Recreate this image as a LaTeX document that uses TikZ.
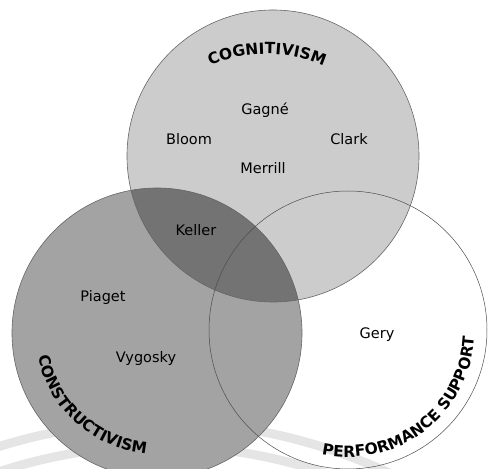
\documentclass[tikz,border=0pt]{standalone}
\usepackage{fontspec}
\usetikzlibrary{decorations.text}
\newfontfamily\dvsans{DejaVu Sans}
\newcommand{\namefont}{\dvsans\fontsize{14.5}{17}\selectfont}
\newcommand{\bandfont}{\dvsans\bfseries\fontsize{15.5}{18}\selectfont}
\tikzset{
  who/.style={font=\namefont, text=black, inner sep=1pt},
  rim/.style={draw=black!60, line width=0.6pt},
  swoosh/.style={draw=black!10, line width=9pt},
  arclabel/.style={decorate, decoration={text along path, text align=center,
      text={|\bandfont|#1}}}
}

\begin{document}
\begin{tikzpicture}[x=1pt,y=1pt]
  \useasboundingbox (0,0) rectangle (488,469);
  \coordinate (cog) at (273,313);
  \coordinate (con) at (157,136);
  \coordinate (perf) at (348,139);
  % faint swooshes behind
  \begin{scope}
    \clip (0,0) rectangle (488,469);
    \coordinate (sw) at (160,-493);
    \draw[swoosh] (sw) ++(112:540) arc[start angle=112, end angle=60, radius=540];
    \draw[swoosh] (sw) ++(112:516) arc[start angle=112, end angle=60, radius=516];
  \end{scope}
  % fills
  \fill[black!20] (cog) circle[radius=146];
  \fill[black!36] (con) circle[radius=145];
  \begin{scope}
    \clip (con) circle[radius=145];
    \fill[black!55] (cog) circle[radius=146];
  \end{scope}
  % rims
  \draw[rim] (cog) circle[radius=146];
  \draw[rim] (con) circle[radius=145];
  \draw[rim, draw=black!70, line width=0.5pt] (perf) circle[radius=139];
  % curved titles
  \coordinate (cogt) at (267,275);
  \path[arclabel=COGNITIVISM] (cogt) ++(140:140) arc[start angle=140, end angle=40, radius=140];
  \path[arclabel=CONSTRUCTIVISM] (con) ++(175:121) arc[start angle=175, end angle=281, radius=121];
  \path[arclabel=PERFORMANCE SUPPORT] (perf) ++(235:127) arc[start angle=235, end angle=380, radius=127];
  % names
  \node[who] (gagne) at (265,359) {Gagné};
  \node[who] (bloom) at (189,330) {Bloom};
  \node[who] (clark) at (349,330) {Clark};
  \node[who] (merrill) at (263,301) {Merrill};
  \node[who] (keller) at (196,239) {Keller};
  \node[who] (piaget) at (103,171) {Piaget};
  \node[who] (vygosky) at (146,110) {Vygosky};
  \node[who] (gery) at (377,134) {Gery};
\end{tikzpicture}
\end{document}
